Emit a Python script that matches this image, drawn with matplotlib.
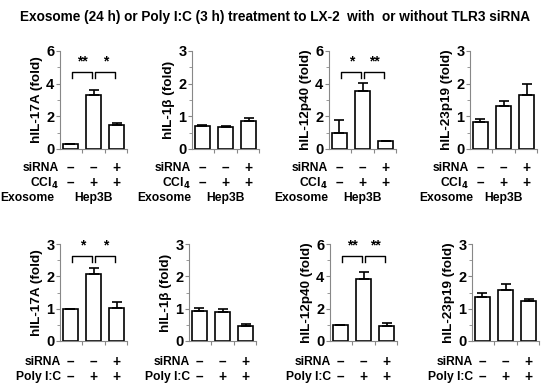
import matplotlib.pyplot as plt
from matplotlib.transforms import blended_transform_factory

plt.rcParams['font.family'] = ['Liberation Sans', 'DejaVu Sans']
plt.rcParams['font.weight'] = 'bold'

# top row: exosome treatment
top_labels = ['hIL-17A (fold)', 'hIL-1β (fold)', 'hIL-12p40 (fold)', 'hIL-23p19 (fold)']
top_ymax = [6, 3, 6, 3]
top_means = [
    [0.30, 3.30, 1.45],
    [0.70, 0.68, 0.85],
    [1.00, 3.55, 0.48],
    [0.82, 1.33, 1.65],
]
top_errs = [
    [0.03, 0.30, 0.15],
    [0.02, 0.03, 0.10],
    [0.80, 0.50, 0.03],
    [0.10, 0.15, 0.35],
]
top_stars = [['**', '*'], None, ['*', '**'], None]
top_sirna = ['–', '–', '+']
top_ccl4 = ['–', '+', '+']

# bottom row: poly I:C treatment
bot_labels = ['hIL-17A (fold)', 'hIL-1β (fold)', 'hIL-12p40 (fold)', 'hIL-23p19 (fold)']
bot_ymax = [3, 3, 6, 3]
bot_means = [
    [1.00, 2.08, 1.03],
    [0.92, 0.90, 0.45],
    [1.02, 3.85, 0.95],
    [1.37, 1.57, 1.25],
]
bot_errs = [
    [0.00, 0.19, 0.19],
    [0.10, 0.10, 0.07],
    [0.00, 0.42, 0.17],
    [0.11, 0.18, 0.05],
]
bot_stars = [['*', '*'], None, ['**', '**'], None]
bot_sirna = ['–', '–', '+']
bot_polyic = ['–', '+', '+']

fig = plt.figure(figsize=(5.5, 3.9), dpi=100)
fig.text(0.5, 0.956, 'Exosome (24 h) or Poly I:C (3 h) treatment to LX-2  with  or without TLR3 siRNA',
         ha='center', va='center', fontsize=9.8, fontweight='bold')

W, H = 550.0, 390.0
top_left = [60, 192, 329, 470]
bot_left = [60, 189, 330, 472]
exo_x = [-0.72, -0.5, -0.5, -0.3]
FS = 8.7
FS_SIGN = 9.8


def draw_panel(ax, means, errs, ymax, ylabel, stars, bracket_y):
    x = [0, 1, 2]
    ax.bar(x, means, width=0.62, color='white', edgecolor='black', linewidth=1.2, zorder=2)
    ax.errorbar(x, means, yerr=[[0, 0, 0], errs], fmt='none', ecolor='black',
                elinewidth=1.2, capsize=3.5, capthick=1.2, zorder=3)
    ax.set_xlim(-0.45, 2.45)
    ax.set_ylim(0, ymax)
    step = 2 if ymax == 6 else 1
    ax.set_yticks(range(0, ymax + 1, step))
    ax.set_yticks([v + step / 2 for v in range(0, ymax, step)], minor=True)
    ax.set_xticks([0.5, 1.5, 2.45])
    ax.set_xticklabels([])
    for s in ['top', 'right']:
        ax.spines[s].set_visible(False)
    for s in ['left', 'bottom']:
        ax.spines[s].set_color('#888888')
        ax.spines[s].set_linewidth(0.8)
    ax.tick_params(axis='y', which='both', direction='out', color='#888888', labelsize=10.5, pad=1)
    ax.tick_params(axis='y', which='major', length=3)
    ax.tick_params(axis='y', which='minor', length=2)
    ax.tick_params(axis='x', direction='out', color='#888888', length=3)
    for t in ax.get_yticklabels():
        t.set_fontweight('bold')
    ax.set_ylabel(ylabel, fontsize=9.7, fontweight='bold', labelpad=2)
    if stars:
        tr = blended_transform_factory(ax.transData, ax.transAxes)
        yb = bracket_y
        dh = 0.065
        for i, st in enumerate(stars):
            x0, x1 = i + 0.08, i + 0.95
            ax.plot([x0, x0, x1, x1], [yb - dh, yb, yb, yb - dh], color='black', lw=1.0,
                    solid_joinstyle='round', clip_on=False, transform=tr)
            ax.text((x0 + x1) / 2, yb + 0.035, st, ha='center', va='bottom',
                    fontsize=10, fontweight='bold', transform=tr)


def row_labels(ax, rows, ys, xname):
    tr = blended_transform_factory(ax.transData, ax.transAxes)
    for (name, signs), y in zip(rows, ys):
        ax.text(xname, y, name, ha='right', va='center', fontsize=FS, fontweight='bold', transform=tr)
        for i, sg in enumerate(signs):
            ax.text(i, y, sg, ha='center', va='center', fontsize=FS_SIGN, fontweight='bold', transform=tr)


for k in range(4):
    ax = fig.add_axes([top_left[k] / W, 1 - 149 / H, 67 / W, 98 / H])
    draw_panel(ax, top_means[k], top_errs[k], top_ymax[k], top_labels[k], top_stars[k], 0.79)
    row_labels(ax, [('siRNA', top_sirna), ('CCl$_\\mathbf{4}$', top_ccl4)], [-0.194, -0.347], -0.5)
    tr = blended_transform_factory(ax.transData, ax.transAxes)
    ax.text(exo_x[k], -0.5, 'Exosome', ha='right', va='center', fontsize=FS, fontweight='bold', transform=tr)
    ax.text(1, -0.5, 'Hep3B', ha='center', va='center', fontsize=FS, fontweight='bold', transform=tr)

for k in range(4):
    ax = fig.add_axes([bot_left[k] / W, 1 - 341 / H, 67 / W, 97 / H])
    draw_panel(ax, bot_means[k], bot_errs[k], bot_ymax[k], bot_labels[k], bot_stars[k], 0.88)
    row_labels(ax, [('siRNA', bot_sirna), ('Poly I:C', bot_polyic)], [-0.216, -0.37], -0.4)

plt.savefig('out.png', dpi=100)
